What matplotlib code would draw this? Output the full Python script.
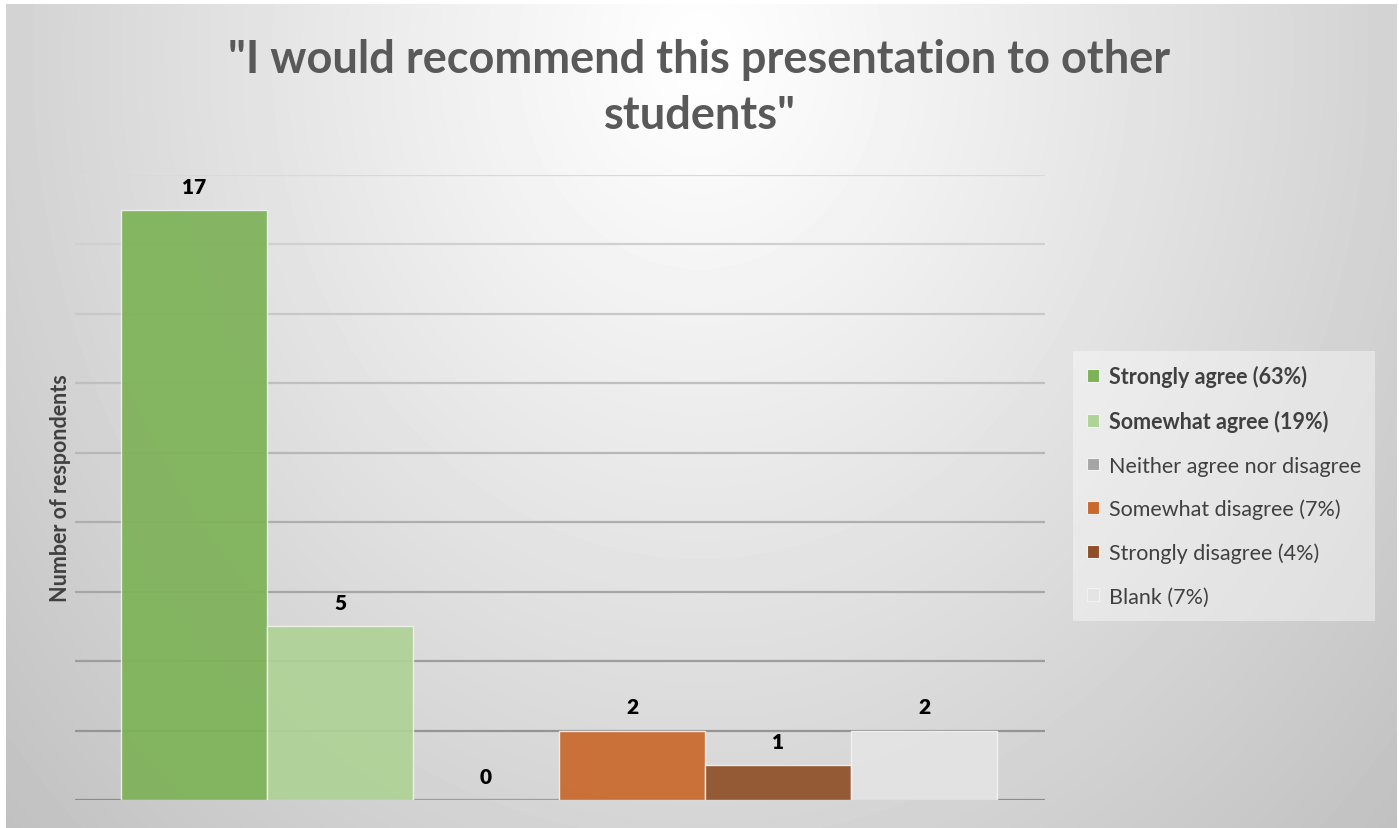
import numpy as np
import matplotlib
matplotlib.use("Agg")
import matplotlib.pyplot as plt
from matplotlib.patches import Patch

# ============================================================
# Data
# ============================================================
categories = [
    "Strongly agree (63%)",
    "Somewhat agree (19%)",
    "Neither agree nor disagree",
    "Somewhat disagree (7%)",
    "Strongly disagree (4%)",
    "Blank (7%)",
]
counts = [17, 5, 0, 2, 1, 2]
colors = ["#7db257", "#aed396", "#a5a5a5", "#c8682b", "#8f4f27", "#e4e4e4"]
bold_labels = [True, True, False, False, False, False]
title = '"I would recommend this presentation to other\nstudents"'
ylabel = "Number of respondents"

W, H = 1399, 829
FONT = "Lato"

fig = plt.figure(figsize=(W / 100, H / 100), dpi=100, facecolor="white")

# ---- radial grey background (like the Office chart style) ----
bg = fig.add_axes([6 / W, 0, (W - 8) / W, (H - 5) / H], zorder=-10)
gx, gy = np.meshgrid(np.arange(W - 8), np.arange(H - 5))
d = np.hypot(gx - 694, (gy - 50) * 0.85)
shade = 255 - 62 * np.clip(d / 950, 0, 1) ** 1.05
bg.imshow(shade, cmap="gray", vmin=0, vmax=255, aspect="auto",
          interpolation="bilinear")
bg.axis("off")

# ---- main axes ----
ax = fig.add_axes([75 / W, 28 / H, 970 / W, 625 / H])
ax.patch.set_alpha(0)
x = np.arange(len(counts))
bars = ax.bar(x, counts, width=1.0, color=colors, edgecolor="#f2f2f2",
              linewidth=1.0, alpha=0.92, zorder=3)

for xi, v in zip(x, counts):
    ax.annotate(str(v), (xi, v), xytext=(0, 17), textcoords="offset points",
                ha="center", va="center", fontsize=15, fontweight="heavy",
                family=FONT, color="black")

ax.set_xlim(-0.5 - 46 / 146, 5.5 + 48 / 146)
ax.set_ylim(0, 18)
ax.set_yticks(np.arange(0, 19, 2))
ax.set_xticks([])
ax.tick_params(axis="y", length=0, labelleft=False)
for s in ax.spines.values():
    s.set_visible(False)
ax.yaxis.grid(True, linewidth=1.6, zorder=1)
ax.set_axisbelow(True)
grid_cols = np.linspace(0.55, 0.85, len(ax.get_ygridlines()))
for gl, c in zip(ax.get_ygridlines(), grid_cols):
    gl.set_color(str(c))

ax.set_ylabel(ylabel, fontsize=15.5, fontweight="bold", family=FONT,
              color="#404040", labelpad=3)

# ---- title ----
fig.text(0.5, 1 - 39 / H, title, ha="center", va="top", fontsize=32.5,
         fontweight="bold", family=FONT, color="#595959", linespacing=1.42)

# ---- legend ----
handles = [Patch(facecolor=c, edgecolor="#f2f2f2", linewidth=0.8) for c in colors]
leg = fig.legend(handles, categories, loc="upper left",
                 bbox_to_anchor=(1073 / W, 1 - 352 / H),
                 prop={"family": FONT, "size": 15.5},
                 handlelength=0.55, handleheight=0.55, handletextpad=0.45,
                 labelspacing=1.08, borderpad=0.65, borderaxespad=0,
                 frameon=True, fancybox=False)
leg.get_frame().set_facecolor("white")
leg.get_frame().set_alpha(0.4)
leg.get_frame().set_edgecolor("none")
for t, b in zip(leg.get_texts(), bold_labels):
    t.set_color("#404040")
    if b:
        t.set_fontweight("bold")

fig.savefig("out.png", dpi=100, facecolor="white")
